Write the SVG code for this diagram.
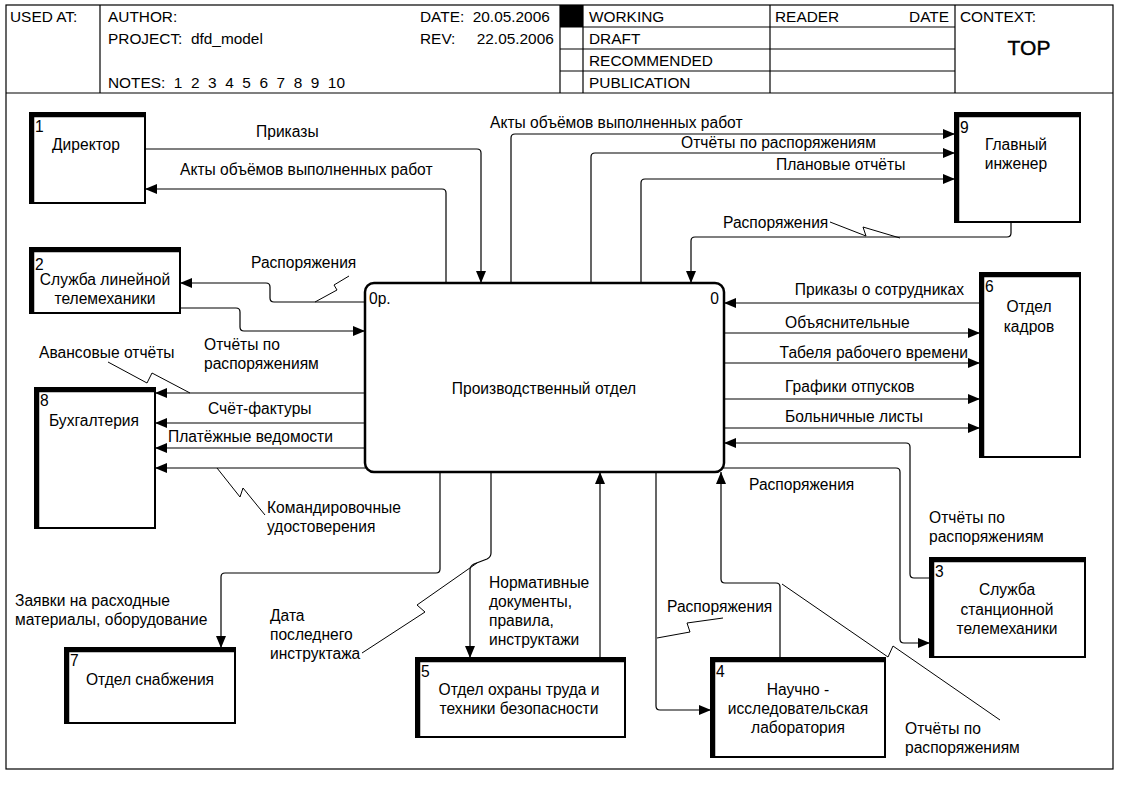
<svg xmlns="http://www.w3.org/2000/svg" width="1129" height="785" viewBox="0 0 1129 785">
<style>
text{font-family:"Liberation Sans",Arial,sans-serif;font-size:15.6px;fill:#000}
.h{font-size:15.4px}
.m{text-anchor:middle}
.e{text-anchor:end}
.fr{fill:none;stroke:#000;stroke-width:1.2}
.nb{fill:#fff;stroke:#000;stroke-width:2}
.nt{fill:none;stroke:#000;stroke-width:4.5}
.c{fill:none;stroke:#000;stroke-width:1.2}
.a{fill:none;stroke:#000;stroke-width:1.2;marker-end:url(#ar)}
.z{fill:none;stroke:#000;stroke-width:1}
</style>
<defs>
<marker id="ar" markerUnits="userSpaceOnUse" markerWidth="12" markerHeight="10" viewBox="0 0 12 10" refX="12" refY="5" orient="auto">
<path d="M0,0 L12,5 L0,10 Z" fill="#000"/>
</marker>
</defs>
<rect width="1129" height="785" fill="#fff"/>
<g id="header">
<rect class="fr" x="6" y="5" width="1107" height="764"/>
<line class="fr" x1="6" y1="93" x2="1113" y2="93"/>
<line class="fr" x1="100" y1="5" x2="100" y2="93"/>
<line class="fr" x1="560" y1="5" x2="560" y2="93"/>
<rect x="560" y="5" width="23" height="22" fill="#000"/>
<line class="fr" x1="583" y1="5" x2="583" y2="93"/>
<line class="fr" x1="770" y1="5" x2="770" y2="93"/>
<line class="fr" x1="955" y1="5" x2="955" y2="93"/>
<line class="fr" x1="560" y1="27" x2="955" y2="27"/>
<line class="fr" x1="560" y1="49" x2="955" y2="49"/>
<line class="fr" x1="560" y1="71" x2="955" y2="71"/>
<text class="h" x="10" y="22">USED AT:</text>
<text class="h" x="108" y="22">AUTHOR:</text>
<text class="h" x="108" y="44" xml:space="preserve">PROJECT:  dfd_model</text>
<text class="h" x="108" y="88" xml:space="preserve">NOTES:  1  2  3  4  5  6  7  8  9  10</text>
<text class="h" x="420" y="22" xml:space="preserve">DATE:  20.05.2006</text>
<text class="h" x="420" y="44" xml:space="preserve">REV:     22.05.2006</text>
<text class="h" x="589" y="22">WORKING</text>
<text class="h" x="589" y="44">DRAFT</text>
<text class="h" x="589" y="66">RECOMMENDED</text>
<text class="h" x="589" y="88">PUBLICATION</text>
<text class="h" x="775" y="22">READER</text>
<text class="h e" x="949" y="22">DATE</text>
<text class="h" x="960" y="22">CONTEXT:</text>
<text class="m" x="1029" y="55" style="font-size:21px;stroke:#000;stroke-width:0.4">TOP</text>
</g>
<g id="connectors">
<path class="a" d="M145,149 H477 Q481,149 481,153 V283"/>
<path class="a" d="M446,283 V193 Q446,189 442,189 H145"/>
<path class="a" d="M511,283 V138 Q511,134 515,134 H955"/>
<path class="a" d="M591,283 V157 Q591,153 595,153 H955"/>
<path class="a" d="M641,283 V183 Q641,179 645,179 H955"/>
<path class="a" d="M1011,222 V233 Q1011,237 1007,237 H695 Q691,237 691,241 V283"/>
<path class="z" d="M830,222 L866,236 L863,227 L900,238"/>
<path class="a" d="M365,302 H274 Q270,302 270,298 V287 Q270,283 266,283 H180"/>
<path class="z" d="M315,302 L337,290 L334,285 L349,276"/>
<path class="a" d="M180,308 H236 Q240,308 240,312 V327 Q240,331 244,331 H365"/>
<path class="a" d="M365,393 H155"/>
<path class="z" d="M108,362 L147,383 L152,373 L190,393"/>
<path class="a" d="M365,423 H155"/>
<path class="a" d="M365,448 H155"/>
<path class="a" d="M367,468 H155"/>
<path class="z" d="M217,468 L240,497 L243,488 L265,515"/>
<path class="a" d="M440,472 V569 Q440,573 436,573 H225 Q221,573 221,577 V648"/>
<path class="a" d="M491,472 V553 Q491,557 487,559 L474,564 Q470,566 470,570 V658"/>
<path class="z" d="M362,653 L425,612 L417,605 L477,563"/>
<path class="a" d="M600,658 V472"/>
<path class="a" d="M656,472 V706 Q656,710 660,710 H711"/>
<path class="z" d="M657,638 L690,632 L687,623 L723,618"/>
<path class="a" d="M780,658 V587 Q780,583 776,583 H725 Q721,583 721,579 V472"/>
<path class="z" d="M782,584 L888,657 L893,646 L1000,720"/>
<path class="a" d="M980,303 H724"/>
<path class="a" d="M724,333 H980"/>
<path class="a" d="M724,363 H980"/>
<path class="a" d="M724,399 H980"/>
<path class="a" d="M724,428 H980"/>
<path class="a" d="M930,578 H914 Q910,578 910,574 V447 Q910,443 906,443 H724"/>
<path class="a" d="M722,468 H896 Q900,468 900,472 V639 Q900,643 904,643 H930"/>
<text x="256" y="137">Приказы</text>
<text x="180" y="175">Акты объёмов выполненных работ</text>
<text x="490" y="128">Акты объёмов выполненных работ</text>
<text class="e" x="876" y="148">Отчёты по распоряжениям</text>
<text x="776" y="170">Плановые отчёты</text>
<text x="723" y="228">Распоряжения</text>
<text x="251" y="268">Распоряжения</text>
<text x="204" y="350">Отчёты по</text>
<text x="204" y="369">распоряжениям</text>
<text x="39" y="358">Авансовые отчёты</text>
<text x="208" y="414">Счёт-фактуры</text>
<text x="168" y="442">Платёжные ведомости</text>
<text x="267" y="513">Командировочные</text>
<text x="267" y="532">удостоверения</text>
<text x="15" y="606">Заявки на расходные</text>
<text x="15" y="625">материалы, оборудование</text>
<text x="270" y="621">Дата</text>
<text x="270" y="640">последнего</text>
<text x="270" y="659">инструктажа</text>
<text x="489" y="588">Нормативные</text>
<text x="489" y="607">документы,</text>
<text x="489" y="626">правила,</text>
<text x="489" y="645">инструктажи</text>
<text x="667" y="612">Распоряжения</text>
<text x="749" y="490">Распоряжения</text>
<text x="929" y="523">Отчёты по</text>
<text x="929" y="542">распоряжениям</text>
<text x="905" y="734">Отчёты по</text>
<text x="905" y="753">распоряжениям</text>
<text class="e" x="964" y="295">Приказы о сотрудниках</text>
<text x="785" y="328">Объяснительные</text>
<text class="e" x="968" y="358">Табеля рабочего времени</text>
<text x="785" y="392">Графики отпусков</text>
<text x="785" y="422">Больничные листы</text>
</g>
<g id="node0">
<rect x="365" y="283" width="359" height="189" rx="9" fill="#fff" stroke="#000" stroke-width="2.5"/>
<text x="369" y="304">0р.</text>
<text class="e" x="719" y="304">0</text>
<text class="m" x="544" y="394">Производственный отдел</text>
</g>
<g id="node1">
<rect class="nb" x="30" y="113" width="115" height="90"/>
<path class="nt" d="M32,203 V115 H145"/>
<text x="35" y="132">1</text>
<text class="m" x="86" y="150">Директор</text>
</g>
<g id="node2">
<rect class="nb" x="30" y="248" width="150" height="65"/>
<path class="nt" d="M32,313 V250 H180"/>
<text x="35" y="270">2</text>
<text class="m" x="105" y="285">Служба линейной</text>
<text class="m" x="105" y="304">телемеханики</text>
</g>
<g id="node9">
<rect class="nb" x="955" y="113" width="125" height="109"/>
<path class="nt" d="M957,222 V115 H1080"/>
<text x="960" y="133">9</text>
<text class="m" x="1016" y="150">Главный</text>
<text class="m" x="1016" y="169">инженер</text>
</g>
<g id="node6">
<rect class="nb" x="980" y="273" width="100" height="184"/>
<path class="nt" d="M982,457 V275 H1080"/>
<text x="985" y="292">6</text>
<text class="m" x="1029" y="312">Отдел</text>
<text class="m" x="1029" y="332">кадров</text>
</g>
<g id="node8">
<rect class="nb" x="35" y="388" width="120" height="140"/>
<path class="nt" d="M37,528 V390 H155"/>
<text x="40" y="406">8</text>
<text class="m" x="94" y="426">Бухгалтерия</text>
</g>
<g id="node7">
<rect class="nb" x="65" y="648" width="170" height="75"/>
<path class="nt" d="M67,723 V650 H235"/>
<text x="70" y="666">7</text>
<text class="m" x="150" y="685">Отдел снабжения</text>
</g>
<g id="node5">
<rect class="nb" x="416" y="658" width="209" height="79"/>
<path class="nt" d="M418,737 V660 H625"/>
<text x="421" y="677">5</text>
<text class="m" x="519" y="695">Отдел охраны труда и</text>
<text class="m" x="519" y="714">техники безопасности</text>
</g>
<g id="node4">
<rect class="nb" x="711" y="658" width="174" height="99"/>
<path class="nt" d="M713,757 V660 H885"/>
<text x="716" y="677">4</text>
<text class="m" x="798" y="695">Научно -</text>
<text class="m" x="798" y="714">исследовательская</text>
<text class="m" x="798" y="733">лаборатория</text>
</g>
<g id="node3">
<rect class="nb" x="930" y="558" width="155" height="99"/>
<path class="nt" d="M932,657 V560 H1085"/>
<text x="935" y="577">3</text>
<text class="m" x="1007" y="595">Служба</text>
<text class="m" x="1007" y="615">станционной</text>
<text class="m" x="1007" y="634">телемеханики</text>
</g>
</svg>
